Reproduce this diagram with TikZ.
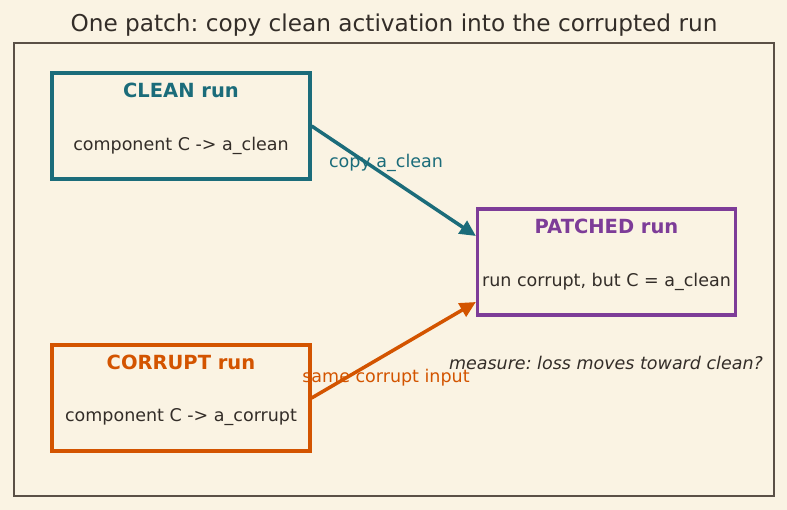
\documentclass[tikz,border=0pt]{standalone}
\usepackage{fontspec}
\setmainfont{DejaVu Sans}
\usetikzlibrary{arrows.meta}
\frenchspacing
\definecolor{paper}{RGB}{250,243,227}
\definecolor{ink}{RGB}{51,45,40}
\definecolor{frameclr}{RGB}{90,80,70}
\definecolor{cleanclr}{RGB}{27,108,122}
\definecolor{corruptclr}{RGB}{211,84,0}
\definecolor{patchclr}{RGB}{125,60,152}
\tikzset{
  runbox/.style={draw=#1,line width=3.2pt,minimum width=258pt,minimum height=106pt,inner sep=0pt},
  runtitle/.style={text=#1,font=\fontsize{19.5}{22}\selectfont\bfseries,inner sep=0pt},
  runbody/.style={text=ink,font=\fontsize{17.5}{20}\selectfont,inner sep=0pt},
  flow/.style={draw=#1,line width=3.5pt,-{Triangle[length=16pt,width=15pt]}},
  flowlabel/.style={text=#1,font=\fontsize{17.5}{20}\selectfont,inner sep=0pt}
}
\begin{document}
\begin{tikzpicture}[x=1pt,y=-1pt]
  \fill[paper] (0,0) rectangle (787,510);
  \useasboundingbox (0,0) rectangle (787,510);
  \draw[frameclr,line width=1.3pt] (14,43) rectangle (774,496);
  \node[text=ink,font=\fontsize{23.2}{26}\selectfont,inner sep=0pt] (title) at (394,25) {One patch: copy clean activation into the corrupted run};
  % the three runs
  \node[runbox=cleanclr] (clean) at (181,126) {};
  \node[runtitle=cleanclr] (cleanhead) at ([yshift=36pt]clean.center) {CLEAN run};
  \node[runbody] (cleantext) at ([yshift=-19.5pt]clean.center) {component C -> a\_clean};
  \node[runbox=corruptclr] (corrupt) at (181,398) {};
  \node[runtitle=corruptclr] (corrupthead) at ([yshift=36pt]corrupt.center) {CORRUPT run};
  \node[runbody] (corrupttext) at ([yshift=-19.5pt]corrupt.center) {component C -> a\_corrupt};
  \node[runbox=patchclr] (patched) at (606.5,262) {};
  \node[runtitle=patchclr] (patchedhead) at ([yshift=36pt]patched.center) {PATCHED run};
  \node[runbody] (patchedtext) at ([yshift=-19.5pt]patched.center) {run corrupt, but C = a\_clean};
  % arrows into the patched run
  \coordinate (intop) at ([yshift=26pt]patched.west);
  \coordinate (inbot) at ([yshift=-40pt]patched.west);
  \draw[flow=cleanclr] (clean.east) -- (intop);
  \draw[flow=corruptclr] (corrupt.east) -- (inbot);
  \node[flowlabel=cleanclr] (copylbl) at (386,163) {copy a\_clean};
  \node[flowlabel=corruptclr] (samelbl) at (386,378) {same corrupt input};
  \node[text=ink,font=\fontsize{17.5}{20}\selectfont\itshape,inner sep=0pt] (measure) at (606,363) {measure: loss moves toward clean?};
\end{tikzpicture}
\end{document}
